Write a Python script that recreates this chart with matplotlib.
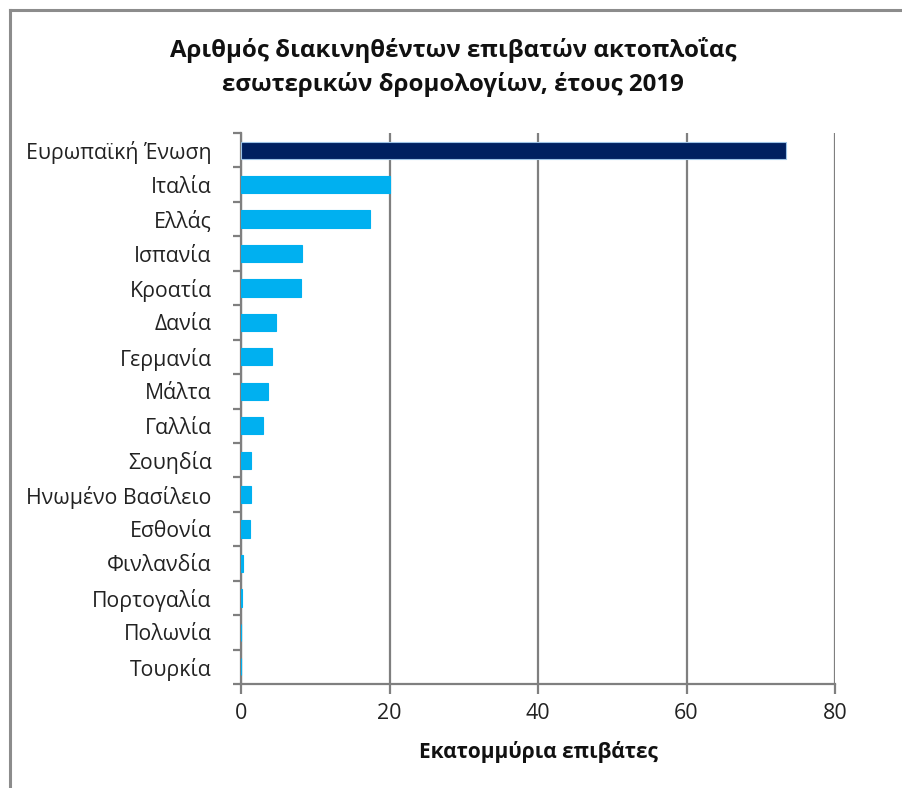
import matplotlib
matplotlib.use("Agg")
import matplotlib.pyplot as plt
from matplotlib.lines import Line2D
import numpy as np

plt.rcParams['font.family'] = ['Open Sans', 'DejaVu Sans']

countries = [
    "Ευρωπαϊκή Ένωση", "Ιταλία", "Ελλάς", "Ισπανία", "Κροατία", "Δανία",
    "Γερμανία", "Μάλτα", "Γαλλία", "Σουηδία", "Ηνωμένο Βασίλειο",
    "Εσθονία", "Φινλανδία", "Πορτογαλία", "Πολωνία", "Τουρκία",
]
passengers_mn = [73.4, 20.1, 17.4, 8.2, 8.1, 4.7, 4.2, 3.6, 3.0, 1.35,
                 1.35, 1.15, 0.22, 0.2, 0.0, 0.0]
x_ticks = [0, 20, 40, 60, 80]

title = "Αριθμός διακινηθέντων επιβατών ακτοπλοΐας\nεσωτερικών δρομολογίων, έτους 2019"
x_label = "Εκατομμύρια επιβάτες"

W, H = 902, 788
fig = plt.figure(figsize=(W / 100, H / 100), dpi=100)
fig.patch.set_facecolor("white")

# chart-area frame (top and left edges)
fig.add_artist(Line2D([10 / W, 1], [1 - 10 / H, 1 - 10 / H], transform=fig.transFigure,
                      color="#8c8c8c", lw=2.2))
fig.add_artist(Line2D([10 / W, 10 / W], [0, 1 - 10 / H], transform=fig.transFigure,
                      color="#8c8c8c", lw=2.2))

ax = fig.add_axes([241 / W, 1 - 684 / H, (835 - 241) / W, (684 - 133) / H])

n = len(countries)
ypos = np.arange(n)
colors = ["#002060"] + ["#00B0F0"] * (n - 1)
ax.barh(ypos, passengers_mn, height=0.5, color=colors,
        edgecolor=["#9dc3e6"] + ["#00B0F0"] * (n - 1), linewidth=0.8, zorder=3)

ax.set_ylim(n - 0.5, -0.5)
ax.set_xlim(0, 80)

ax.set_xticks(x_ticks)
ax.set_xticklabels([str(t) for t in x_ticks], fontsize=15.5, color="#222222")
ax.tick_params(axis="x", length=7, width=1.6, color="#7f7f7f", pad=7, direction="out")

ax.set_yticks(ypos)
ax.set_yticklabels(countries, fontsize=15.3, color="#222222")
ax.tick_params(axis="y", which="major", length=0, pad=21)
ax.set_yticks(np.arange(-0.5, n, 1), minor=True)
ax.tick_params(axis="y", which="minor", length=6, width=1.6, color="#7f7f7f", direction="out")

ax.grid(axis="x", color="#7f7f7f", linewidth=1.6, zorder=0)
for side in ("top", "right"):
    ax.spines[side].set_visible(False)
for side in ("left", "bottom"):
    ax.spines[side].set_color("#7f7f7f")
    ax.spines[side].set_linewidth(1.6)

ax.set_xlabel(x_label, fontsize=15, fontweight="bold", labelpad=12, color="#111111")

fig.text(453 / W, 1 - 67 / H, title, ha="center", va="center", fontsize=17.3,
         fontweight="bold", color="#111111", linespacing=1.5)

fig.savefig("out.png", dpi=100, facecolor="white")
